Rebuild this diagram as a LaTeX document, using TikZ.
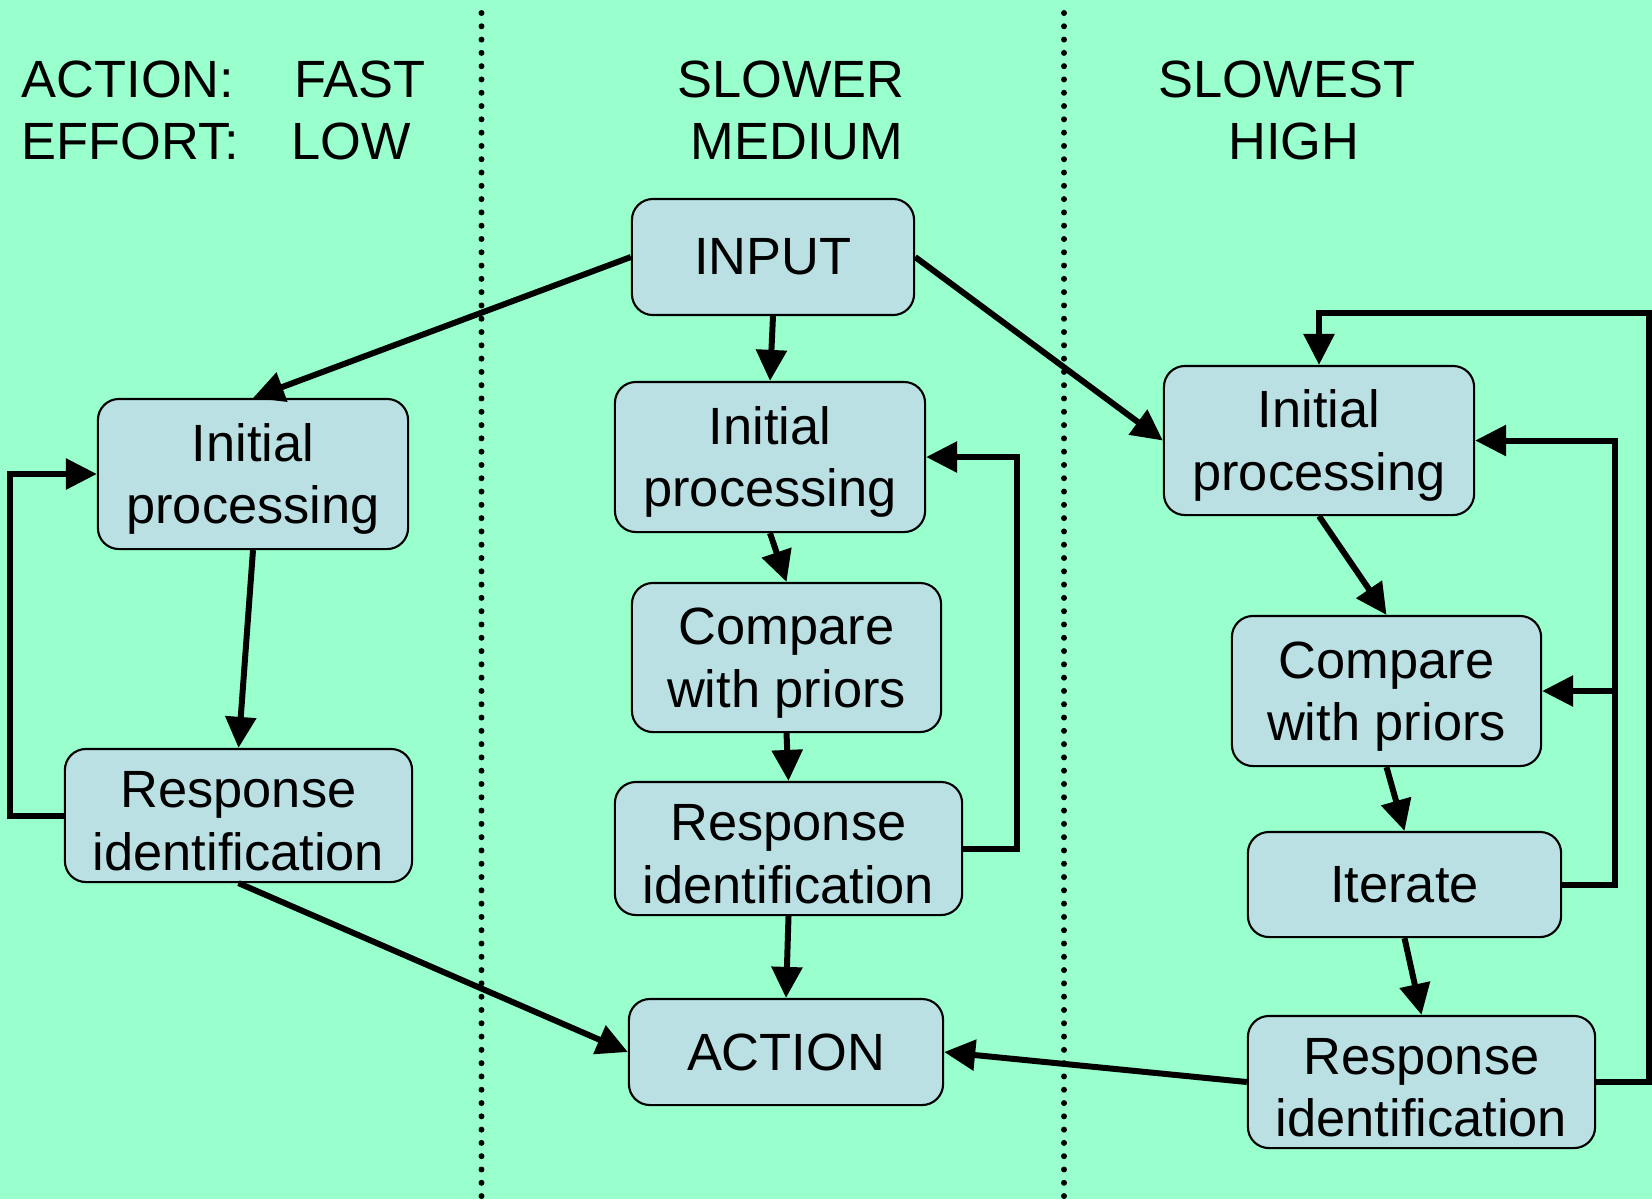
\documentclass[tikz,border=0pt]{standalone}
\usepackage{fontspec}
\setmainfont{Liberation Sans}
\usetikzlibrary{arrows.meta,calc}
\definecolor{bgmint}{RGB}{153,255,204}
\definecolor{boxblue}{RGB}{187,224,227}
\newcommand{\topstrut}{\rule{0pt}{13.6pt}}
\begin{document}
\begin{tikzpicture}[x=0.01cm,y=-0.01cm,
  box/.style={draw=black, line width=0.6pt, fill=boxblue, rounded corners=0.21cm, inner sep=0pt, align=center, font=\fontsize{14.9}{17.8}\selectfont},
  hdr/.style={inner sep=0pt, font=\fontsize{14.9}{17.8}\selectfont},
  arr/.style={line width=1.7pt, -{Triangle[length=0.31cm,width=0.30cm]}},
  sepline/.style={line width=1.7pt, dash pattern=on 0pt off 3.78pt, line cap=round}]
\useasboundingbox (0,0) rectangle (1652,1199);
\fill[bgmint] (0,0) rectangle (1652,1199);
% separators
\draw[sepline] (481.5,13) -- (481.5,1199);
\draw[sepline] (1064,13) -- (1064,1199);
% headers
\node[hdr, anchor=base west] (h1) at (21,97) {ACTION:};
\node[hdr, anchor=base west] (h2) at (294,97) {FAST};
\node[hdr, anchor=base west] (h3) at (21,159) {EFFORT:};
\node[hdr, anchor=base west] (h4) at (291,159) {LOW};
\node[hdr, anchor=base] (h5) at (791,97) {SLOWER};
\node[hdr, anchor=base] (h6) at (797,159) {MEDIUM};
\node[hdr, anchor=base] (h7) at (1287,97) {SLOWEST};
\node[hdr, anchor=base] (h8) at (1294,159) {HIGH};
% boxes
\node[box, minimum width=3.10cm, minimum height=1.50cm] (ip1) at (253,474) {\topstrut Initial\\processing};
\node[box, minimum width=3.47cm, minimum height=1.33cm] (ri1) at (238.5,815.5) {\topstrut Response\\identification};
\node[box, minimum width=2.82cm, minimum height=1.16cm] (inp) at (773,257) {INPUT};
\node[box, minimum width=3.10cm, minimum height=1.50cm] (ip2) at (770,457) {\topstrut Initial\\processing};
\node[box, minimum width=3.09cm, minimum height=1.49cm] (cp2) at (786.5,657.5) {\topstrut Compare\\with priors};
\node[box, minimum width=3.47cm, minimum height=1.33cm] (ri2) at (788.5,848.5) {\topstrut Response\\identification};
\node[box, minimum width=3.14cm, minimum height=1.06cm] (act) at (786,1052) {ACTION};
\node[box, minimum width=3.10cm, minimum height=1.49cm] (ip3) at (1319,440.5) {\topstrut Initial\\processing};
\node[box, minimum width=3.09cm, minimum height=1.50cm] (cp3) at (1386.5,691) {\topstrut Compare\\with priors};
\node[box, minimum width=3.13cm, minimum height=1.05cm] (it3) at (1404.5,884.5) {Iterate};
\node[box, minimum width=3.47cm, minimum height=1.32cm] (ri3) at (1421.5,1082) {\topstrut Response\\identification};
% connectors
\draw[arr] (inp.west) -- (ip1.north);
\draw[arr] (inp.south) -- (ip2.north);
\draw[arr] (inp.east) -- (ip3.west);
\draw[arr] (ip1.south) -- (ri1.north);
\draw[arr] (ri1.west) -- ++(-53.4,0) |- (ip1.west);
\draw[arr] (ri1.south) -- (act.west);
\draw[arr] (ip2.south) -- (cp2.north);
\draw[arr] (cp2.south) -- (ri2.north);
\draw[arr] (ri2.east) -- ++(54,0) |- (ip2.east);
\draw[arr] (ri2.south) -- (act.north);
\draw[arr] (ip3.south) -- (cp3.north);
\draw[arr] (cp3.south) -- (it3.north);
\draw[arr] (it3.south) -- (ri3.north);
\draw[arr] (ri3.west) -- (act.east);
\draw[arr] (ri3.east) -- ++(53,0) -- ++(0,-769) -| (ip3.north);
\coordinate (vr) at ($(it3.east)+(53,0)$);
\draw[arr] (it3.east) -- (vr) |- (ip3.east);
\draw[arr] (vr |- cp3.east) -- (cp3.east);
\end{tikzpicture}
\end{document}
